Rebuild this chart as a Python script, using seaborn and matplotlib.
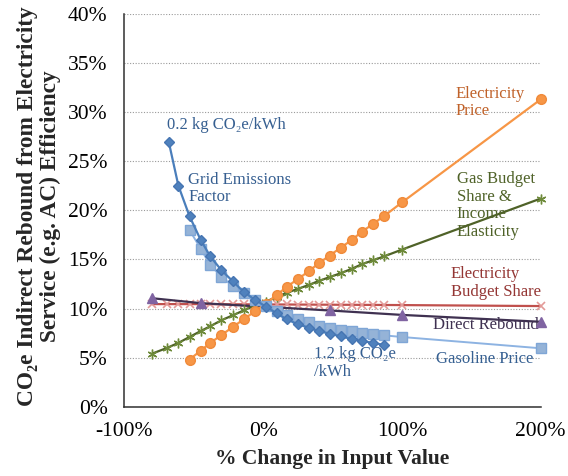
import matplotlib
matplotlib.use("Agg")
import matplotlib.pyplot as plt
import seaborn as sns
from matplotlib.ticker import FuncFormatter

# ---------------- data (percent values) ----------------
grid_x = [-68, -61, -53, -45, -38, -30, -22, -14, -6, 2, 10, 17, 25, 33, 40, 48, 56, 64, 71, 79, 87]
grid_y = [27.0, 22.5, 19.4, 17.0, 15.3, 13.9, 12.8, 11.7, 10.9, 10.2, 9.5, 8.9, 8.4, 8.05, 7.7, 7.45,
          7.15, 6.9, 6.7, 6.5, 6.3]

gasoline_x = [-53, -45, -38, -30, -22, -14, -6, 2, 10, 17, 25, 33, 40, 48, 56, 64, 71, 79, 87, 100, 200]
gasoline_y = [18.0, 16.1, 14.4, 13.25, 12.3, 11.6, 10.9, 10.3, 9.7, 9.34, 8.95, 8.6, 8.27, 8.0, 7.8,
              7.68, 7.54, 7.4, 7.27, 7.1, 5.95]

elec_price_x = [-53, -45, -38, -30, -22, -14, -6, 2, 10, 17, 25, 33, 40, 48, 56, 64, 71, 79, 87, 100, 200]
elec_price_y = [4.8, 5.7, 6.5, 7.3, 8.1, 8.9, 9.7, 10.5, 11.4, 12.2, 13.0, 13.8, 14.6, 15.4, 16.2,
                17.0, 17.8, 18.6, 19.4, 20.8, 31.3]

gas_budget_x = [-80, -69, -61, -53, -45, -38, -30, -22, -14, -6, 2, 10, 17, 25, 33, 40, 48, 56, 64,
                71, 79, 87, 100, 200]
gas_budget_y = [5.4, 6.0, 6.5, 7.1, 7.7, 8.2, 8.8, 9.3, 9.8, 10.3, 10.7, 11.2, 11.6, 12.0, 12.4, 12.8,
                13.2, 13.6, 14.05, 14.5, 14.9, 15.3, 16.0, 21.2]

elec_budget_x = [-80, -69, -61, -53, -45, -38, -30, -22, -14, -6, 2, 10, 17, 25, 33, 40, 48, 56, 64,
                 71, 79, 87, 100, 200]
elec_budget_y = [10.45, 10.45, 10.45, 10.45, 10.45, 10.44, 10.44, 10.43, 10.43, 10.42, 10.42, 10.41,
                 10.41, 10.4, 10.4, 10.39, 10.39, 10.38, 10.38, 10.37, 10.37, 10.36, 10.35, 10.25]

direct_x = [-80, -45, 48, 100, 200]
direct_y = [11.05, 10.55, 9.8, 9.35, 8.65]

x_ticks = [-100, 0, 100, 200]
y_ticks = [0, 5, 10, 15, 20, 25, 30, 35, 40]
x_label = "% Change in Input Value"
y_label = "CO\u2082e Indirect Rebound from Electricity\nService (e.g. AC) Efficiency"

# ---------------- style ----------------
sns.set_theme(style="white")
plt.rcParams["font.family"] = ["Liberation Serif", "DejaVu Serif"]

fig = plt.figure(figsize=(5.68, 4.76), dpi=100)
ax = fig.add_axes([0.2188, 0.1456, 0.7331, 0.825])

def series(x, y, color, marker, ms, lw=1.6, mfc=None, mec=None, mew=1.0, z=3):
    sns.lineplot(x=x, y=y, ax=ax, color=color, lw=lw, marker=marker, markersize=ms,
                 markerfacecolor=mfc or color, markeredgecolor=mec or color,
                 markeredgewidth=mew, clip_on=False, zorder=z, sort=False, estimator=None)

series(elec_budget_x, elec_budget_y, "#C0504D", "x", 6, lw=1.6, mec="#E39A98", mew=1.2, z=3)
series(direct_x, direct_y, "#3F3151", "^", 7, lw=1.6, mfc="#8064A2", mec="#8064A2", z=4)
series(gas_budget_x, gas_budget_y, "#4F6228", (6, 2, 0), 7, lw=1.6, mec="#6E8A3A", mew=1.0, z=4)
series(elec_price_x, elec_price_y, "#F79646", "o", 7, lw=1.6, mfc="#F79646", mec="#F08A3A", z=5)
series(gasoline_x, gasoline_y, "#8DB3E2", "s", 6.5, lw=1.4, mfc="#95B3D7", mec="#7FA6D6", z=5)
series(grid_x, grid_y, "#4A7EBB", "D", 5.5, lw=1.6, mfc="#4F81BD", mec="#4675B2", z=6)

# ---------------- axes ----------------
ax.set_xlim(-100, 200)
ax.set_ylim(0, 40)
ax.set_xticks(x_ticks)
ax.set_yticks(y_ticks)
ax.xaxis.set_major_formatter(FuncFormatter(lambda v, p: f"{v:.0f}%"))
ax.yaxis.set_major_formatter(FuncFormatter(lambda v, p: f"{v:.0f}%"))
ax.tick_params(axis="both", direction="in", length=6, width=1, color="#303030",
               labelsize=15.5, labelcolor="black")
ax.tick_params(axis="y", pad=12)
ax.tick_params(axis="x", pad=11)
for side in ("top", "right"):
    ax.spines[side].set_visible(False)
for side in ("left", "bottom"):
    ax.spines[side].set_color("#303030")
    ax.spines[side].set_linewidth(1.1)

ax.yaxis.grid(True, color="#9A9A9A", linestyle=(0, (1, 1.5)), linewidth=0.8)
ax.xaxis.grid(False)
ax.set_axisbelow(True)

ax.set_xlabel(x_label, fontsize=15.5, fontweight="bold", labelpad=6)
ax.set_ylabel(y_label, fontsize=16.8, fontweight="bold", linespacing=1.12)
ax.yaxis.set_label_coords(-0.152, 0.512)

# ---------------- annotations ----------------
fs = 12
ax.text(-69.4, 28.7, "0.2 kg CO\u2082e/kWh", color="#365F91", fontsize=fs, ha="left", va="center")
ax.text(-53.9, 22.2, "Grid Emissions\nFactor", color="#365F91", fontsize=fs, ha="left", va="center",
        linespacing=1.1)
ax.text(138.5, 31.0, "Electricity\nPrice", color="#C0622A", fontsize=fs, ha="left", va="center",
        linespacing=1.1)
ax.text(139.4, 20.5, "Gas Budget\nShare &\nIncome\nElasticity", color="#4F6228", fontsize=fs,
        ha="left", va="center", linespacing=1.15)
ax.text(135.4, 12.6, "Electricity\nBudget Share", color="#943634", fontsize=fs, ha="left",
        va="center", linespacing=1.1)
ax.text(122.2, 8.3, "Direct Rebound", color="#3F3151", fontsize=fs, ha="left", va="center")
ax.text(124.6, 4.9, "Gasoline Price", color="#366092", fontsize=fs, ha="left", va="center")
ax.text(37.0, 4.45, "1.2 kg CO\u2082e\n/kWh", color="#365F91", fontsize=fs, ha="left", va="center",
        linespacing=1.15)

fig.savefig("out.png", dpi=100)
